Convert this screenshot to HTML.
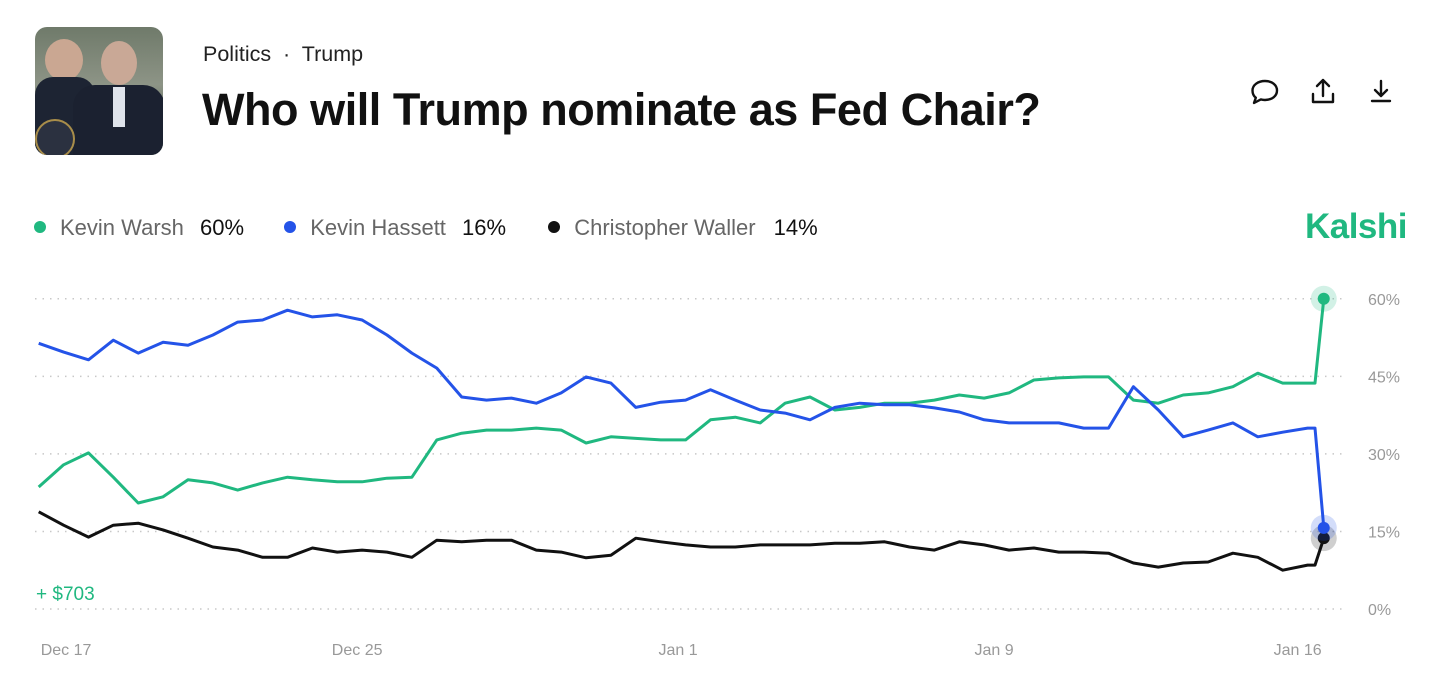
<!DOCTYPE html>
<html><head><meta charset="utf-8"><style>
body{margin:0;width:1456px;height:691px;background:#fff;font-family:"Liberation Sans",sans-serif;overflow:hidden;position:relative}
.abs{position:absolute}
.dot{display:inline-block;width:12px;height:12px;border-radius:50%;margin-right:14px;vertical-align:2px}
</style></head><body>
<div class="abs" style="left:35px;top:27px;width:128px;height:128px;border-radius:12px;overflow:hidden;background:linear-gradient(180deg,#6f7a6a 0%,#8d9486 45%,#3b4a44 100%)">
 <div style="position:absolute;left:10px;top:12px;width:38px;height:42px;border-radius:50%;background:#caa792"></div>
 <div style="position:absolute;left:0;top:50px;width:60px;height:80px;background:#1d2433;border-radius:18px 18px 0 0"></div>
 <div style="position:absolute;left:66px;top:14px;width:36px;height:44px;border-radius:50%;background:#c9a896"></div>
 <div style="position:absolute;left:38px;top:58px;width:92px;height:72px;background:#1b2130;border-radius:22px 22px 0 0"></div>
 <div style="position:absolute;left:78px;top:60px;width:12px;height:40px;background:#dfe3ea"></div>
 <div style="position:absolute;left:0;top:92px;width:36px;height:36px;border-radius:50%;background:#2b3140;border:2px solid #a88d4a"></div>
</div>
<div class="abs" style="left:203px;top:42px;font-size:21.5px;color:#222">Politics &nbsp;·&nbsp; Trump</div>
<div class="abs" style="left:202px;top:84px;font-size:45px;font-weight:bold;color:#111;letter-spacing:-0.45px">Who will Trump nominate as Fed Chair?</div>
<svg class="abs" style="left:1248px;top:74px" width="150" height="36">
 <g fill="none" stroke="#111" stroke-width="2.4" stroke-linejoin="round"><path d="M17 7c7 0 12 4 12 9.5s-5 9.5-12 9.5c-1.5 0-3-.2-4.2-.6L6 29l1.8-5.3C5.5 22 4.5 19.3 4.5 16.5 4.5 11 10 7 17 7z"/></g>
 <g fill="none" stroke="#111" stroke-width="2.4" stroke-linecap="round" stroke-linejoin="round"><path d="M75 22v-16M69 12l6-6 6 6M65 20v8h20v-8"/></g>
 <g fill="none" stroke="#111" stroke-width="2.4" stroke-linecap="round" stroke-linejoin="round"><path d="M133 7v15M127 16l6 6 6-6M124 27h18"/></g>
</svg>
<div class="abs" style="left:34px;top:215px;font-size:22px;color:#666;white-space:nowrap">
 <span><span class="dot" style="background:#20b880"></span>Kevin Warsh <span style="color:#111;margin-left:10px">60%</span></span>
 <span style="margin-left:34px"><span class="dot" style="background:#2453e8"></span>Kevin Hassett <span style="color:#111;margin-left:10px">16%</span></span>
 <span style="margin-left:36px"><span class="dot" style="background:#111"></span>Christopher Waller <span style="color:#111;margin-left:12px">14%</span></span>
</div>
<div class="abs" style="right:49px;top:207px;font-size:35px;font-weight:bold;color:#20b880;letter-spacing:-0.5px">Kalshi</div>
<div class="abs" style="left:36px;top:584px;font-size:19px;color:#20b880">+ $703</div>
<svg id="chart" class="abs" style="left:0;top:0" width="1456" height="691"></svg>
<script>
const times=[0,1,2,3,4,5,6,7,8,9,10,11,12,13,14,15,16,17,18,19,20,21,22,23,24,25,26,27,28,29,30,31,32,33,34,35,36,37,38,39,40,41,42,43,44,45,46,47,48,49,50,51,51.3,51.65];
const warsh=[23.6,27.9,30.2,25.5,20.5,21.7,25,24.4,23,24.4,25.5,25,24.6,24.6,25.3,25.5,32.7,34,34.6,34.6,35,34.6,32.1,33.3,33,32.7,32.7,36.6,37.1,36,39.8,41,38.5,39,39.8,39.8,40.4,41.4,40.8,41.8,44.3,44.7,44.9,44.9,40.4,39.8,41.4,41.8,43,45.6,43.7,43.7,43.7,60];
const hassett=[51.4,49.7,48.2,52,49.5,51.6,51,53,55.5,55.9,57.8,56.5,56.9,55.9,53,49.5,46.6,41,40.4,40.8,39.8,41.8,44.9,43.7,39,40,40.4,42.4,40.4,38.5,37.9,36.6,39,39.8,39.5,39.5,38.9,38.1,36.6,36,36,36,35,35,43,38.5,33.3,34.6,36,33.3,34.2,35,35,15.7];
const waller=[18.8,16.2,13.9,16.2,16.6,15.3,13.7,12,11.4,10,10,11.8,11,11.4,11,10,13.3,13,13.3,13.3,11.4,11,9.9,10.4,13.7,13,12.4,12,12,12.4,12.4,12.4,12.7,12.7,13,12,11.4,13,12.4,11.4,11.8,11,11,10.8,8.9,8.1,8.9,9.1,10.8,10,7.5,8.5,8.5,13.7];
const yTicks=[0,15,30,45,60];
const xTickLabels=["Dec 17","Dec 25","Jan 1","Jan 9","Jan 16"];
const xTickTimes=[1.1,12.8,25.7,38.4,50.6];
const NS="http://www.w3.org/2000/svg";
const svg=document.getElementById('chart');
const X=t=>38.7+t*24.88;
const Y=v=>609-v*5.17;
function mk(tag,attrs,parent){const e=document.createElementNS(NS,tag);for(const k in attrs)e.setAttribute(k,attrs[k]);(parent||svg).appendChild(e);return e;}
yTicks.forEach(v=>{
 const l=mk('line',{x1:35,x2:1345,y1:Y(v),y2:Y(v),stroke:'#c8c8c8','stroke-width':1.5,'stroke-dasharray':'1.5 6'});
 
 
 const t=mk('text',{x:1368,y:Y(v)+6,'font-size':16,fill:'#999','font-family':'Liberation Sans, sans-serif'});
 t.textContent=v+'%';
 
 
});
xTickLabels.forEach((s,i)=>{
 const t=mk('text',{x:X(xTickTimes[i]),y:655,'font-size':16,fill:'#999','text-anchor':'middle','font-family':'Liberation Sans, sans-serif'});
 t.textContent=s;
 
 
});
function series(vals,color,name){
 const d=vals.map((v,i)=>(i?'L':'M')+X(times[i]).toFixed(1)+' '+Y(v).toFixed(1)).join(' ');
 const p=mk('path',{d:d,fill:'none',stroke:color,'stroke-width':3,'stroke-linejoin':'round'});
 
 
 const n=vals.length-1;
 const h=mk('circle',{cx:X(times[n]),cy:Y(vals[n]),r:13,fill:color,opacity:0.2});
 
 
 const c=mk('circle',{cx:X(times[n]),cy:Y(vals[n]),r:6,fill:color});
 
 
}
series(waller,'#111111','waller');
series(warsh,'#20b880','warsh');
series(hassett,'#2453e8','hassett');
</script>
</body></html>
